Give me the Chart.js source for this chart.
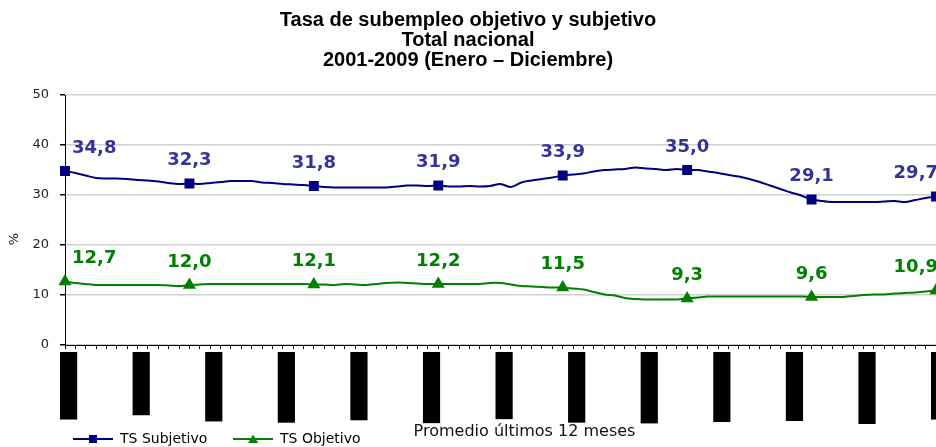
<!DOCTYPE html>
<html>
<head>
<meta charset="utf-8">
<script src="https://cdn.jsdelivr.net/npm/chart.js@4.4.1/dist/chart.umd.min.js"></script>
<style>
  body { margin: 0; background: #fff; }
  #wrap { width: 936px; height: 447px; overflow: hidden; }
</style>
</head>
<body>
<div id="wrap"><canvas id="subempleoChart" width="936" height="456"></canvas></div>
<script>
// Month names and years used for the category axis (Dic-01 .. Dic-08)
const months = ['Ene', 'Feb', 'Mar', 'Abr', 'May', 'Jun', 'Jul', 'Ago', 'Sep', 'Oct', 'Nov', 'Dic'];
const years = ['01', '02', '03', '04', '05', '06', '07', '08'];

// TS Subjetivo, promedio ultimos 12 meses
const tsSubjetivo = [
    34.8, 34.4, 33.9, 33.4, 33.3, 33.3, 33.2, 33.0, 32.9, 32.7, 32.4, 32.2,
    32.3, 32.2, 32.4, 32.6, 32.8, 32.8, 32.8, 32.5, 32.4, 32.2, 32.1, 32.0,
    31.8, 31.6, 31.5, 31.5, 31.5, 31.5, 31.5, 31.5, 31.7, 31.9, 31.9, 31.8,
    31.9, 31.7, 31.7, 31.8, 31.7, 31.8, 32.2, 31.6, 32.5, 32.9, 33.2, 33.5,
    33.9, 34.1, 34.3, 34.7, 35.0, 35.1, 35.2, 35.5, 35.3, 35.2, 35.0, 35.2,
    35.0, 35.0, 34.7, 34.4, 34.0, 33.7, 33.2, 32.6, 31.9, 31.2, 30.5, 29.9,
    29.1, 28.8, 28.6, 28.6, 28.6, 28.6, 28.6, 28.7, 28.8, 28.6, 29.0, 29.4,
    29.7
];

// TS Objetivo, promedio ultimos 12 meses
const tsObjetivo = [
    12.7, 12.4, 12.2, 12.0, 12.0, 12.0, 12.0, 12.0, 12.0, 12.0, 11.9, 11.8,
    12.0, 12.1, 12.2, 12.2, 12.2, 12.2, 12.2, 12.2, 12.2, 12.2, 12.2, 12.2,
    12.1, 12.1, 12.0, 12.2, 12.1, 12.0, 12.2, 12.4, 12.5, 12.4, 12.3, 12.2,
    12.2, 12.2, 12.2, 12.2, 12.2, 12.4, 12.4, 12.1, 11.8, 11.7, 11.6, 11.5,
    11.5, 11.3, 11.1, 10.6, 10.1, 9.9, 9.4, 9.2, 9.1, 9.1, 9.1, 9.1,
    9.3, 9.5, 9.7, 9.7, 9.7, 9.7, 9.7, 9.7, 9.7, 9.7, 9.7, 9.7,
    9.6, 9.6, 9.6, 9.6, 9.8, 10.0, 10.1, 10.1, 10.3, 10.4, 10.5, 10.7,
    10.9
];

const yTicks = [0, 10, 20, 30, 40, 50];

// build the monthly categories from Dic-01 to Dic-08
const categories = ['Dic-01'];
years.slice(1).forEach(y => months.forEach(m => categories.push(m + '-' + y)));

const NAVY = '#000080';
const GREEN = '#008000';

// small line + marker images for the legend keys
function legendKey(color, shape) {
    const c = document.createElement('canvas');
    c.width = 40;
    c.height = 12;
    const g = c.getContext('2d');
    g.strokeStyle = color;
    g.lineWidth = 2;
    g.beginPath();
    g.moveTo(0, 6);
    g.lineTo(40, 6);
    g.stroke();
    g.fillStyle = color;
    if (shape === 'rect') {
        g.fillRect(16, 2, 8, 8);
    } else {
        g.beginPath();
        g.moveTo(20, 1.5);
        g.lineTo(25, 10);
        g.lineTo(15, 10);
        g.closePath();
        g.fill();
    }
    return c;
}
const keys = [legendKey(NAVY, 'rect'), legendKey(GREEN, 'triangle')];

// yearly value labels (every 12th point)
const valueLabels = {
    id: 'valueLabels',
    afterDatasetsDraw(chart) {
        const ctx = chart.ctx;
        const area = chart.chartArea;
        ctx.save();
        ctx.font = 'bold 18px "DejaVu Sans"';
        ctx.textBaseline = 'middle';
        ctx.textAlign = 'left';
        chart.data.datasets.forEach((ds, di) => {
            chart.getDatasetMeta(di).data.forEach((pt, i) => {
                if (i % 12 !== 0) return;
                const text = ds.data[i].toFixed(1).replace('.', ',');
                const w = ctx.measureText(text).width;
                let x = pt.x - w / 2;
                if (x < area.left) x = area.left + 7;
                if (x + w > area.right) x = area.right + 2 - w;
                ctx.fillStyle = ds.labelColor;
                ctx.fillText(text, x, pt.y - 23);
            });
        });
        ctx.restore();
    }
};

// "%" unit and the note next to the legend
const axisNotes = {
    id: 'axisNotes',
    afterDraw(chart) {
        const ctx = chart.ctx;
        const area = chart.chartArea;
        ctx.save();
        ctx.fillStyle = '#111';
        ctx.textAlign = 'center';
        ctx.textBaseline = 'middle';
        ctx.font = '16px "DejaVu Sans"';
        ctx.fillText('Promedio últimos 12 meses', (area.left + area.right) / 2 + 24, chart.legend.top + 8);
        ctx.translate(area.left - 50, (area.top + area.bottom) / 2 + 19);
        ctx.rotate(-Math.PI / 2);
        ctx.font = '13px "DejaVu Sans"';
        ctx.fillText('%', 0, 0);
        ctx.restore();
    }
};

const markerRadius = ctx => (ctx.dataIndex % 12 === 0 ? 5.6 : 0);

new Chart(document.getElementById('subempleoChart'), {
    type: 'line',
    data: {
        labels: categories,
        datasets: [{
            label: 'TS Subjetivo',
            data: tsSubjetivo,
            borderColor: NAVY,
            backgroundColor: NAVY,
            labelColor: '#333399',
            borderWidth: 2,
            tension: 0.3,
            pointStyle: 'rect',
            pointRadius: markerRadius,
            pointHoverRadius: markerRadius,
            pointBackgroundColor: NAVY,
            pointBorderColor: NAVY
        }, {
            label: 'TS Objetivo',
            data: tsObjetivo,
            borderColor: GREEN,
            backgroundColor: GREEN,
            labelColor: GREEN,
            borderWidth: 2,
            tension: 0.3,
            pointStyle: 'triangle',
            pointRadius: markerRadius,
            pointHoverRadius: markerRadius,
            pointBackgroundColor: GREEN,
            pointBorderColor: GREEN
        }]
    },
    options: {
        responsive: false,
        animation: false,
        layout: { padding: 0, autoPadding: false },
        plugins: {
            title: {
                display: true,
                text: ['Tasa de subempleo objetivo y subjetivo', 'Total nacional', '2001-2009 (Enero \u2013 Diciembre)'],
                color: '#000',
                font: { family: 'Liberation Sans', size: 20, weight: 'bold', lineHeight: '20px' },
                padding: { top: 10, bottom: 25 }
            },
            legend: {
                position: 'bottom',
                align: 'start',
                fullSize: false,
                labels: {
                    color: '#000',
                    font: { family: 'DejaVu Sans', size: 14 },
                    usePointStyle: true,
                    pointStyleWidth: 40,
                    padding: 8,
                    generateLabels(chart) {
                        const items = Chart.defaults.plugins.legend.labels.generateLabels(chart);
                        items.forEach((it, i) => {
                            it.pointStyle = keys[i];
                            it.text = it.text + '    ';
                        });
                        return items;
                    }
                }
            },
            tooltip: { enabled: false }
        },
        scales: {
            x: {
                type: 'category',
                offset: false,
                afterFit(scale) {
                    scale.height = 79;
                    scale.paddingLeft = 0;
                    scale.paddingRight = 0;
                },
                border: { color: '#000', width: 1 },
                grid: { drawOnChartArea: false, drawTicks: true, tickLength: 4, tickColor: '#000' },
                ticks: {
                    autoSkip: false,
                    minRotation: 90,
                    maxRotation: 90,
                    padding: 5,
                    labelOffset: -3,
                    color: '#000',
                    font: { family: 'DejaVu Sans', size: 11 },
                    showLabelBackdrop: ctx => ctx.index % 7 === 0,
                    backdropColor: '#000',
                    backdropPadding: { top: 2, bottom: 2, left: 30, right: 2 },
                    callback: (value, index) => (index % 7 === 0 ? categories[index] : '')
                }
            },
            y: {
                min: yTicks[0],
                max: yTicks[yTicks.length - 1],
                afterFit(scale) {
                    scale.width = 65;
                },
                afterBuildTicks(scale) {
                    scale.ticks = yTicks.map(v => ({ value: v }));
                },
                border: { color: '#000', width: 1 },
                grid: { color: '#cfcfcf', lineWidth: 1.5, tickLength: 5, tickColor: '#000' },
                ticks: {
                    padding: 11,
                    color: '#222',
                    font: { family: 'DejaVu Sans', size: 13 }
                }
            }
        }
    },
    plugins: [valueLabels, axisNotes]
});
</script>
</body>
</html>
